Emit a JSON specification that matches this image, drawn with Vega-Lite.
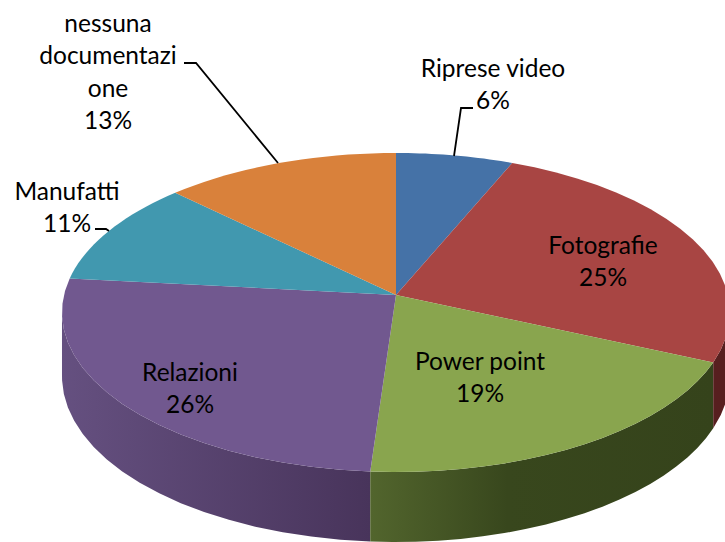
{
  "$schema": "https://vega.github.io/schema/vega-lite/v6.json",
  "width": 725,
  "height": 542,
  "padding": 0,
  "autosize": {"type": "none"},
  "background": "white",
  "view": {"stroke": null},
  "config": {"text": {"font": "Lato"}},
  "data": {"values": [
    {"slice": "Riprese video", "share": 6.3, "label": "Riprese video\n6%"},
    {"slice": "Fotografie", "share": 25.4, "label": "Fotografie\n25%"},
    {"slice": "Power point", "share": 19.4, "label": "Power point\n19%"},
    {"slice": "Relazioni", "share": 25.6, "label": "Relazioni\n26%"},
    {"slice": "Manufatti", "share": 10.6, "label": "Manufatti\n11%"},
    {"slice": "nessuna documentazione", "share": 12.7, "label": "nessuna\ndocumentazi\none\n13%"}
  ]},
  "transform": [
    {"window": [{"op": "sum", "field": "share", "as": "cum"}]},
    {"calculate": "[-1,0,0.05,0.1,0.15,0.2,0.25,0.3,0.35,0.4,0.45,0.5,0.55,0.6,0.65,0.7,0.75,0.8,0.85,0.9,0.95,1]", "as": "t"},
    {"flatten": ["t"]},
    {"calculate": "2*PI*(datum.cum-datum.share+datum.share*datum.t)/100", "as": "theta"},
    {"calculate": "1+0.1097*cos(datum.theta)", "as": "w"},
    {"calculate": "datum.t<0?396:396+332*sin(datum.theta)/datum.w", "as": "px"},
    {"calculate": "datum.t<0?295:295-157.6*cos(datum.theta)/datum.w", "as": "py"},
    {"calculate": "clamp(datum.theta,1.676,4.608)", "as": "wt"},
    {"calculate": "1+0.1097*cos(datum.wt)", "as": "ww"},
    {"calculate": "396+332*sin(datum.wt)/datum.ww", "as": "wx"},
    {"calculate": "295-157.6*cos(datum.wt)/datum.ww", "as": "wy"},
    {"calculate": "datum.wy+63-7*cos(datum.wt)", "as": "wy2"},
    {"calculate": "{'Riprese video':493,'Fotografie':603,'Power point':480,'Relazioni':190,'Manufatti':67,'nessuna documentazione':108}[datum.slice]", "as": "lx"},
    {"calculate": "{'Riprese video':70,'Fotografie':247,'Power point':363,'Relazioni':374,'Manufatti':193,'nessuna documentazione':25}[datum.slice]", "as": "ly"}
  ],
  "layer": [
    {
      "transform": [{"filter": "datum.t>=0 && datum.slice==='Relazioni'"}],
      "mark": {"type": "area", "fill": {"gradient": "linear", "x1": 0, "y1": 0, "x2": 1, "y2": 0, "stops": [{"offset": 0, "color": "#655080"}, {"offset": 1, "color": "#48345b"}]}},
      "encoding": {
        "x": {"field": "wx", "type": "quantitative", "scale": {"domain": [0, 725], "nice": false, "zero": false}, "axis": null},
        "y": {"field": "wy", "type": "quantitative", "scale": {"domain": [542, 0], "nice": false, "zero": false}, "axis": null},
        "y2": {"field": "wy2"}
      }
    },
    {
      "transform": [{"filter": "datum.t>=0 && datum.slice==='Power point'"}],
      "mark": {"type": "area", "fill": {"gradient": "linear", "x1": 0, "y1": 0, "x2": 1, "y2": 0, "stops": [{"offset": 0, "color": "#52652d"}, {"offset": 0.4, "color": "#38471d"}, {"offset": 1, "color": "#35431b"}]}},
      "encoding": {
        "x": {"field": "wx", "type": "quantitative", "axis": null},
        "y": {"field": "wy", "type": "quantitative", "axis": null},
        "y2": {"field": "wy2"}
      }
    },
    {
      "transform": [{"filter": "datum.t>=0 && datum.slice==='Fotografie'"}],
      "mark": {"type": "area", "fill": "#571f1f"},
      "encoding": {
        "x": {"field": "wx", "type": "quantitative", "axis": null},
        "y": {"field": "wy", "type": "quantitative", "axis": null},
        "y2": {"field": "wy2"}
      }
    },
    {
      "mark": {"type": "line", "filled": true, "strokeWidth": 0},
      "encoding": {
        "x": {"field": "px", "type": "quantitative", "axis": null},
        "y": {"field": "py", "type": "quantitative", "axis": null},
        "order": {"field": "t", "type": "quantitative"},
        "color": {
          "field": "slice",
          "type": "nominal",
          "legend": null,
          "scale": {
            "domain": ["Riprese video", "Fotografie", "Power point", "Relazioni", "Manufatti", "nessuna documentazione"],
            "range": ["#4572a7", "#a84543", "#89a54e", "#71588f", "#4198af", "#d9813b"]
          }
        }
      }
    },
    {
      "data": {"values": [
        {"leader": "Riprese video", "n": 1, "x": 473, "y": 108},
        {"leader": "Riprese video", "n": 2, "x": 461, "y": 108},
        {"leader": "Riprese video", "n": 3, "x": 454, "y": 156},
        {"leader": "Manufatti", "n": 1, "x": 95, "y": 229},
        {"leader": "Manufatti", "n": 2, "x": 106, "y": 229},
        {"leader": "Manufatti", "n": 3, "x": 109, "y": 231},
        {"leader": "nessuna documentazione", "n": 1, "x": 184, "y": 63},
        {"leader": "nessuna documentazione", "n": 2, "x": 196, "y": 63},
        {"leader": "nessuna documentazione", "n": 3, "x": 278, "y": 163}
      ]},
      "mark": {"type": "line", "color": "black", "strokeWidth": 1.8},
      "encoding": {
        "x": {"field": "x", "type": "quantitative", "axis": null},
        "y": {"field": "y", "type": "quantitative", "axis": null},
        "detail": {"field": "leader"},
        "order": {"field": "n", "type": "quantitative"}
      }
    },
    {
      "transform": [{"filter": "datum.t===0"}],
      "mark": {"type": "text", "font": "Lato", "fontSize": 24.5, "lineBreak": "\n", "lineHeight": 32.3, "align": "center", "baseline": "middle", "color": "black"},
      "encoding": {
        "x": {"field": "lx", "type": "quantitative", "axis": null},
        "y": {"field": "ly", "type": "quantitative", "axis": null},
        "text": {"field": "label"}
      }
    }
  ],
  "resolve": {"scale": {"color": "independent"}}
}
